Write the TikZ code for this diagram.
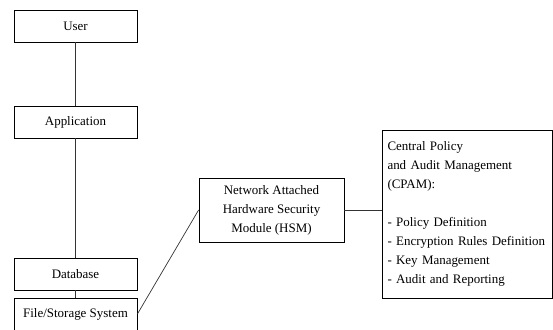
\documentclass[tikz,border=0pt]{standalone}
\usepackage{fontspec}
\setmainfont{Liberation Serif}
\begin{document}
\begin{tikzpicture}[x=1bp,y=-1bp,
  box/.style={draw=black,line width=0.8bp,fill=white,inner sep=0pt,font=\fontsize{13}{19}\selectfont,align=center},
  conn/.style={draw=black!80,line width=0.7bp}]
\useasboundingbox (0,0) rectangle (553,329);
\node[box,minimum width=123bp,minimum height=32bp] (user) at (75.5,26) {User};
\node[box,minimum width=123bp,minimum height=32bp] (app) at (75.5,122) {Application};
\node[box,minimum width=123bp,minimum height=32bp] (db) at (75.5,274) {Database};
\node[box,minimum width=123bp,minimum height=32bp] (fs) at (75.5,314) {File/Storage System};
\node[box,minimum width=145bp,minimum height=64bp] (hsm) at (271.5,210) {Network Attached\\Hardware Security\\Module (HSM)};
\node[box,minimum width=170bp,minimum height=168bp,text width=165bp,align=left] (cpam) at (467,214) {\hspace*{3bp}Central Policy\\\hspace*{3bp}and Audit Management\\\hspace*{3bp}(CPAM):\\[19bp]\hspace*{3bp}- Policy Definition\\\hspace*{3bp}- Encryption Rules Definition\\\hspace*{3bp}- Key Management\\\hspace*{3bp}- Audit and Reporting};
\draw[conn] (user.south) -- (app.north);
\draw[conn] (app.south) -- (db.north);
\draw[conn] (db.south) -- (fs.north);
\draw[conn] (fs.east) -- (hsm.west);
\draw[conn] (hsm.east) -- (hsm.east -| cpam.west);
\end{tikzpicture}
\end{document}
